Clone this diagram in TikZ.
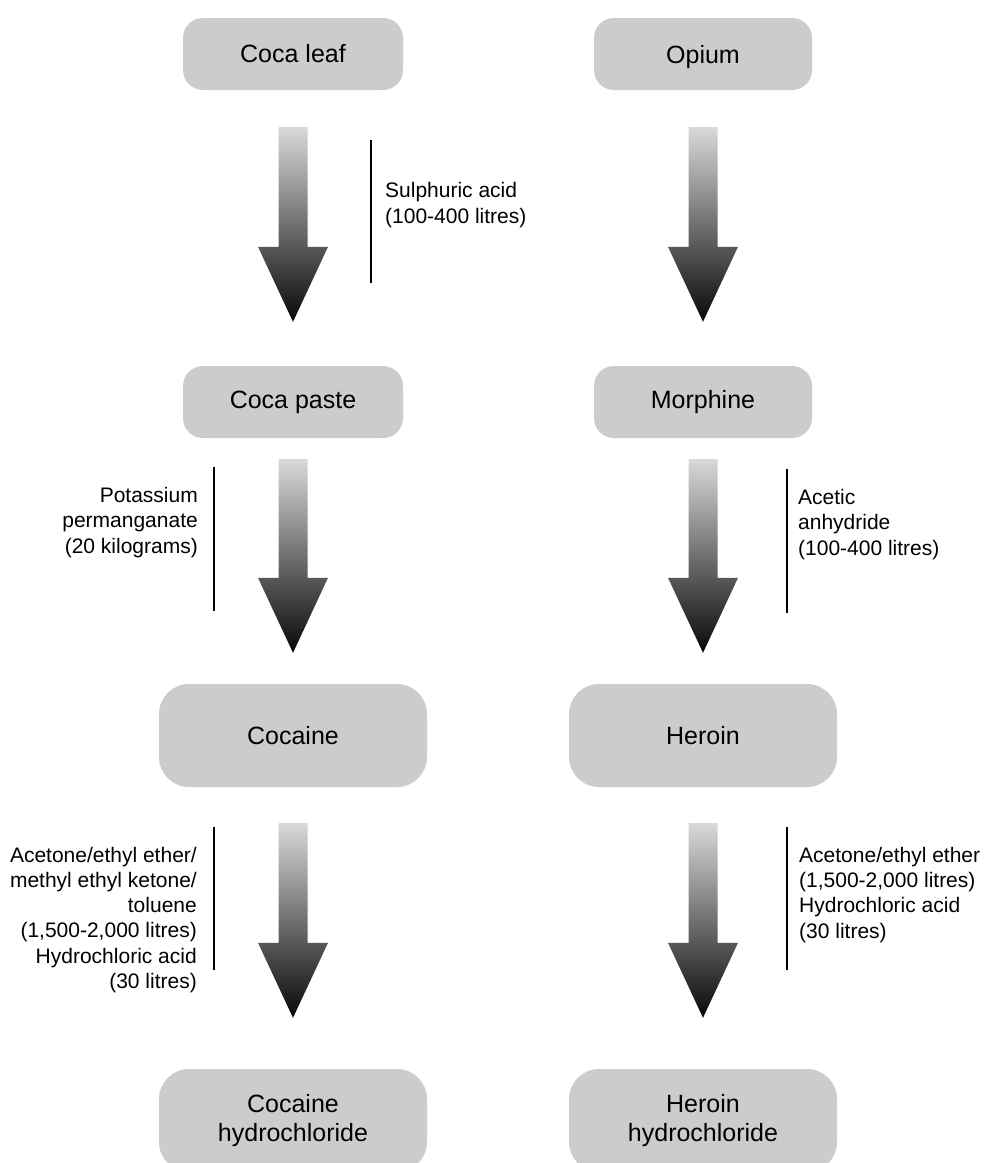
\documentclass[tikz,border=0pt]{standalone}
\usepackage{fontspec}
\setmainfont{Liberation Sans}
\usetikzlibrary{calc}
\definecolor{boxgray}{gray}{0.8}
\definecolor{arrtop}{gray}{0.85}
\definecolor{arrbot}{gray}{0.03}
\tikzset{
  stage/.style={fill=boxgray, rounded corners=20pt, minimum width=220pt, minimum height=72pt,
    font=\fontsize{25}{29}\selectfont, align=center, inner sep=0pt},
  bigstage/.style={stage, rounded corners=30pt, minimum width=268pt, minimum height=103pt},
  note/.style={font=\fontsize{21}{25.3}\selectfont, inner sep=0pt},
  bar/.style={line width=1.5pt},
}
\newcommand{\gradarrow}[2]{%
  \shade[top color=arrtop, bottom color=arrbot]
    let \p1=(#1), \p2=(#2) in
    ({\x1-14.5pt},\y1) -- ({\x1+14.5pt},\y1) -- ({\x1+14.5pt},{\y2+75pt})
    -- ({\x1+35pt},{\y2+75pt}) -- (\x1,\y2) -- ({\x1-35pt},{\y2+75pt})
    -- ({\x1-14.5pt},{\y2+75pt}) -- cycle;}
\begin{document}
\begin{tikzpicture}[x=1pt,y=-1pt]
\fill[white] (0,0) rectangle (984,1163);
\useasboundingbox (0,0) rectangle (984,1163);
% stages
\node[stage] (leaf) at (293,54) {Coca leaf};
\node[stage, minimum width=218pt, text depth=0pt] (opium) at (703,54) {Opium};
\node[stage] (paste) at (293,402) {Coca paste};
\node[stage, minimum width=218pt] (morph) at (703,402) {Morphine};
\node[bigstage] (coc) at (293,735.5) {Cocaine};
\node[bigstage] (her) at (703,735.5) {Heroin};
\node[bigstage] (cochcl) at (293,1120.5) {Cocaine\\hydrochloride};
\node[bigstage] (herhcl) at (703,1120.5) {Heroin\\hydrochloride};
% arrows
\coordinate (a1s) at ($(leaf.south)+(0,37)$);   \coordinate (a1e) at ($(paste.north)+(0,-44)$);
\coordinate (a2s) at ($(opium.south)+(0,37)$);  \coordinate (a2e) at ($(morph.north)+(0,-44)$);
\coordinate (a3s) at ($(paste.south)+(0,21)$);  \coordinate (a3e) at ($(coc.north)+(0,-31)$);
\coordinate (a4s) at ($(morph.south)+(0,21)$);  \coordinate (a4e) at ($(her.north)+(0,-31)$);
\coordinate (a5s) at ($(coc.south)+(0,36)$);    \coordinate (a5e) at ($(cochcl.north)+(0,-51)$);
\coordinate (a6s) at ($(her.south)+(0,36)$);    \coordinate (a6e) at ($(herhcl.north)+(0,-51)$);
\gradarrow{a1s}{a1e}
\gradarrow{a2s}{a2e}
\gradarrow{a3s}{a3e}
\gradarrow{a4s}{a4e}
\gradarrow{a5s}{a5e}
\gradarrow{a6s}{a6e}
% bars
\draw[bar] (371,140) -- (371,283);
\draw[bar] (214,467) -- (214,611);
\draw[bar] (787,469) -- (787,613);
\draw[bar] (214,827) -- (214,970);
\draw[bar] (787,827) -- (787,970);
% notes (base anchor = baseline of last line)
\node[note, anchor=base west, align=left] (n1) at (385,223) {Sulphuric acid\\(100-400 litres)};
\node[note, anchor=base east, align=right] (n2) at (198,553) {Potassium\\permanganate\\(20 kilograms)};
\node[note, anchor=base west, align=left] (n3) at (798,555) {Acetic\\anhydride\\(100-400 litres)};
\node[note, anchor=base east, align=right] (n4) at (197,988.5) {Acetone/ethyl ether/\\methyl ethyl ketone/\\toluene\\(1,500-2,000 litres)\\Hydrochloric acid\\(30 litres)};
\node[note, anchor=base west, align=left] (n5) at (799,938) {Acetone/ethyl ether\\(1,500-2,000 litres)\\Hydrochloric acid\\(30 litres)};
\end{tikzpicture}
\end{document}
